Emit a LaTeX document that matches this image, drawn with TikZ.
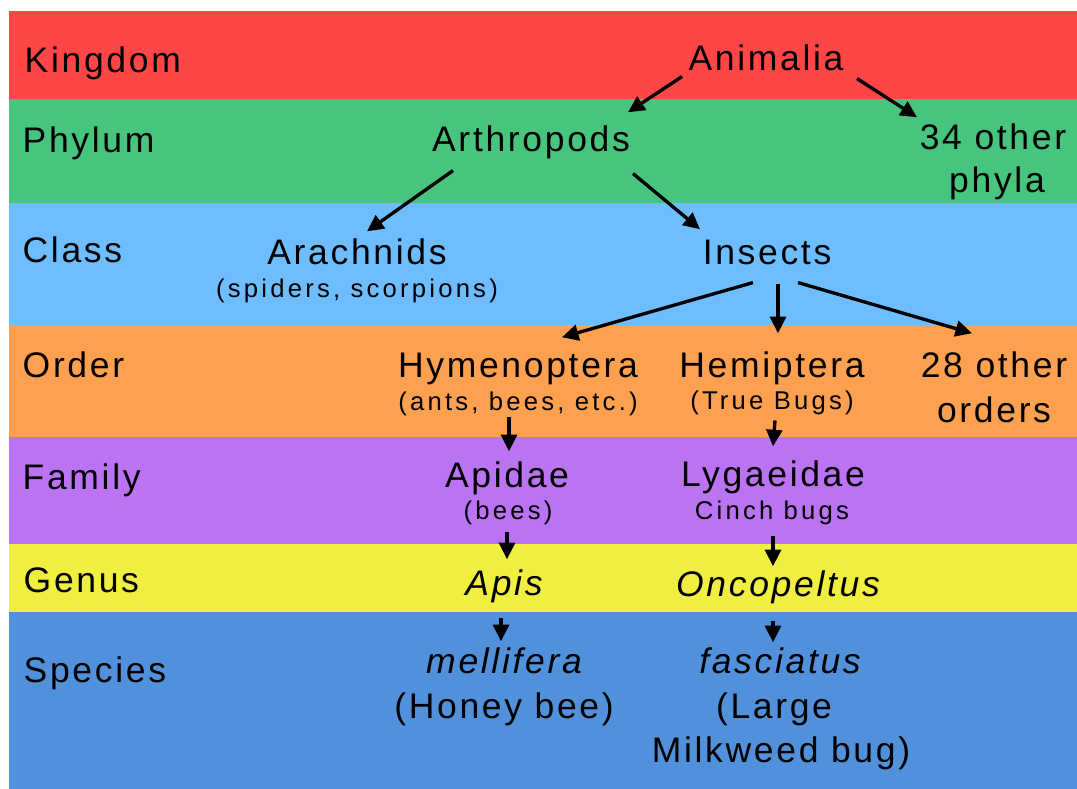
\documentclass[tikz,border=0pt]{standalone}
\usepackage{fontspec}
\newfontfamily\taxfont{Liberation Sans}[LetterSpace=7.5]
\newfontfamily\notefont{Liberation Sans}[LetterSpace=12.5]
\usetikzlibrary{arrows.meta,calc}

\definecolor{kingdomcol}{RGB}{255,70,70}
\definecolor{phylumcol}{RGB}{71,196,126}
\definecolor{classcol}{RGB}{110,190,255}
\definecolor{ordercol}{RGB}{253,160,80}
\definecolor{familycol}{RGB}{185,115,243}
\definecolor{genuscol}{RGB}{240,238,64}
\definecolor{speciescol}{RGB}{81,145,220}

\begin{document}
\begin{tikzpicture}[
  x=0.01cm, y=-0.01cm,
  >={Triangle[length=4.7pt,width=4.5pt]},
  rank/.style={anchor=base west,inner sep=0pt,font=\taxfont\fontsize{10.1}{12}\selectfont},
  taxon/.style={anchor=base,inner sep=0pt,text height=7.4pt,text depth=2.1pt,font=\taxfont\fontsize{10.1}{12}\selectfont},
  note/.style={anchor=base,inner sep=0pt,text height=5.3pt,text depth=1.5pt,font=\notefont\fontsize{7.3}{9}\selectfont},
  arr/.style={->,line width=0.95pt},
]
\useasboundingbox (0,0) rectangle (1077,789);
\fill[white] (0,0) rectangle (1077,789);

% rank bands
\fill[kingdomcol] (9,11) rectangle (1077,99);
\fill[phylumcol]  (9,99) rectangle (1077,203);
\fill[classcol]   (9,203) rectangle (1077,325);
\fill[ordercol]   (9,325) rectangle (1077,437);
\fill[familycol]  (9,437) rectangle (1077,544);
\fill[genuscol]   (9,544) rectangle (1077,612);
\fill[speciescol] (9,612) rectangle (1077,789);

\node[rank] (kingdom) at (24,73)  {Kingdom};
\node[rank] (phylum)  at (22,153) {Phylum};
\node[rank] (class)   at (22,263) {Class};
\node[rank] (order)   at (22,378) {Order};
\node[rank] (family)  at (22,490) {Family};
\node[rank] (genus)   at (23,592) {Genus};
\node[rank] (species) at (23,682) {Species};

% taxa
\node[taxon] (animalia)   at (766,71)  {Animalia};
\node[taxon] (arthropods) at (531,152) {Arthropods};
\node[taxon] (other34)    at (993,150) {34 other};
\node[taxon] (phyla)      at (997,193) {phyla};
\node[taxon] (arachnids)  at (357,265) {Arachnids};
\node[note]  (arachnote)  at (357,298) {(spiders, scorpions)};
\node[taxon] (insects)    at (767,265) {Insects};
\node[taxon] (hymenoptera) at (518,378) {Hymenoptera};
\node[note]  (hymnote)    at (518,411) {(ants, bees, etc.)};
\node[taxon] (hemiptera)  at (772,378) {Hemiptera};
\node[note]  (hemnote)    at (772,410) {(True Bugs)};
\node[taxon] (other28)    at (994,378) {28 other};
\node[taxon] (orders)     at (994,423) {orders};
\node[taxon] (apidae)     at (507,488) {Apidae};
\node[note]  (apinote)    at (508,520) {(bees)};
\node[taxon] (lygaeidae)  at (773,486) {Lygaeidae};
\node[note]  (lygnote)    at (772,519) {Cinch bugs};
\node[taxon] (apis)       at (504,595) {\itshape Apis};
\node[taxon] (oncopeltus) at (778,596) {\itshape Oncopeltus};
\node[taxon] (mellifera)  at (504,673) {\itshape mellifera};
\node[taxon] (honeybee)   at (504,718) {(Honey bee)};
\node[taxon] (fasciatus)  at (780,673) {\itshape fasciatus};
\node[taxon] (large)      at (774,718) {(Large};
\node[taxon] (milkweed)   at (781,762) {Milkweed bug)};

% links
\draw[arr] ($(animalia.south)+(-84,-2.5)$) -- ($(arthropods.north)+(97,-13)$);
\draw[arr] ($(animalia.south)+(91,-0.5)$) -- ($(other34.north)+(-76,-6)$);
\draw[arr] ($(arthropods.south)+(-78,10.5)$) -- ($(arachnids.north)+(10,-7)$);
\draw[arr] ($(arthropods.south)+(102,13.5)$) -- ($(insects.north)+(-67,-9)$);
\draw[arr] ($(insects.south)+(-14,9.5)$) -- ($(hymenoptera.north)+(44,-14)$);
\draw[arr] ($(insects.south)+(11,10.5)$) -- ($(hemiptera.north)+(6,-18)$);
\draw[arr] ($(insects.south)+(31,9.5)$) -- ($(other28.north)+(-22,-18)$);
\draw[arr] ($(hymnote.south)+(-9,0.5)$) -- ($(apidae.north)+(2,-10)$);
\draw[arr] ($(hemnote.south)+(3,4.5)$) -- ($(lygaeidae.north)+(0,-13)$);
\draw[arr] ($(apinote.south)+(-1,6.5)$) -- ($(apis.north)+(3,-9)$);
\draw[arr] ($(lygnote.south)+(1,11.5)$) -- ($(oncopeltus.north)+(-5,-3)$);
\draw[arr] ($(apis.south)+(-3,14.5)$) -- ($(mellifera.north)+(-3,-5)$);
\draw[arr] ($(oncopeltus.south)+(-5,16.5)$) -- ($(fasciatus.north)+(-7,-4)$);
\end{tikzpicture}
\end{document}
